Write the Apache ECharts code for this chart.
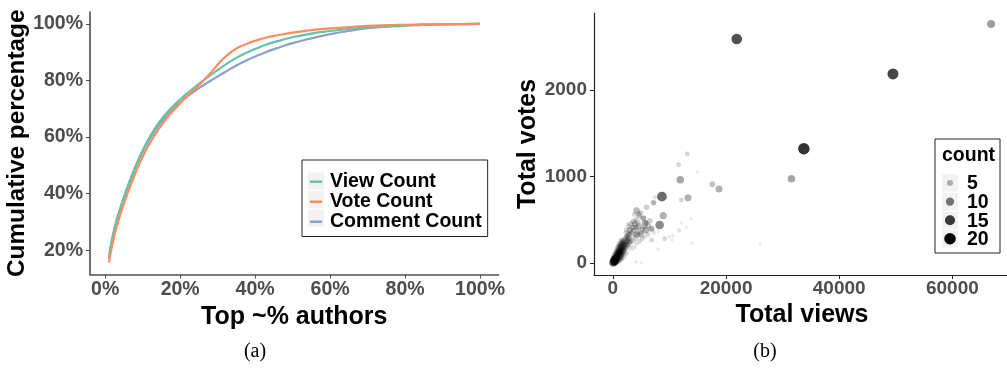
<!DOCTYPE html>
<html>
<head>
<meta charset="utf-8">
<script src="https://cdn.jsdelivr.net/npm/echarts@6/dist/echarts.min.js"></script>
<style>
  html, body { margin: 0; padding: 0; background: #fff; }
  #chart { width: 1007px; height: 374px; }
</style>
</head>
<body>
<div id="chart"></div>
<script>
// (a) cumulative share held by the top x% of authors
const topPct = [1, 2, 3, 4, 5, 6, 8, 10, 12, 14, 16, 18, 20, 22, 25, 28, 30, 32, 35, 38, 40, 43, 46, 50, 55, 60, 65, 70, 75, 80, 85, 90, 95, 100];
const viewCum = [18.2, 25, 30.5, 34.8, 38.9, 42.6, 49.4, 55.3, 60.3, 64.5, 67.9, 70.8, 73.3, 75.6, 78.8, 81.8, 83.7, 85.5, 88, 90, 91.1, 92.7, 93.9, 95.3, 96.6, 97.5, 98.2, 98.8, 99.2, 99.5, 99.72, 99.87, 99.96, 100];
const voteCum = [15.6, 22.5, 28, 32.4, 36.5, 40.2, 47, 53, 58, 62.3, 65.9, 69.1, 71.9, 74.6, 78.3, 82.5, 85.6, 88.3, 91.3, 93.1, 94, 95.2, 96, 96.9, 97.8, 98.4, 98.9, 99.3, 99.55, 99.7, 99.82, 99.9, 99.96, 100];
const commentCum = [17, 24.5, 29.8, 34.3, 38.4, 42, 48.8, 54.7, 59.6, 63.6, 66.9, 69.8, 72.3, 74.5, 77.3, 79.8, 81.4, 83, 85.3, 87.3, 88.5, 90.1, 91.5, 93.2, 94.9, 96.4, 97.5, 98.5, 99, 99.35, 99.65, 99.85, 99.95, 100];
const pctXTicks = [0, 20, 40, 60, 80, 100];
const pctYTicks = [20, 40, 60, 80, 100];

// (b) [total views, total votes, count]
const corePoints = [
  [40,2,9],[90,15,8],[130,5,8],[170,28,7],[210,10,7],[260,40,7],[300,18,6],[340,55,6],[390,8,6],[420,30,6],
  [470,62,6],[510,15,5],[560,48,6],[600,80,5],[640,25,5],[690,60,5],[730,100,5],[780,35,5],[820,75,5],[870,120,5],
  [910,45,5],[960,95,5],[1000,140,5],[1050,60,6],[1090,110,6],[1140,160,5],[1190,70,6],[1230,130,6],[1280,180,5],[1320,85,6],
  [1370,150,5],[1420,200,5],[1460,95,5],[1510,170,5],[1560,215,5],[1600,110,5],[1650,185,5],[1700,235,4],[1750,125,5],[1800,200,5],
  [1850,250,4],[1900,140,5],[1950,215,5],[2000,265,4],[2060,160,4],[2110,230,4],[2170,285,3],[2230,175,4],[2290,245,4],[2350,300,3],
  [2420,190,3],[2480,260,3],[2550,320,3],[2620,210,3],[2700,275,3],[2780,335,3],[2860,230,3],[2950,290,3],[3050,350,3],[3150,245,3],
  [200,60,5],[350,85,5],[500,110,5],[650,135,4],[800,160,4],[950,185,4],[1100,205,4],[1250,225,4],[1400,250,3],[1550,270,3],
  [300,3,4],[550,8,4],[800,12,3],[1050,20,3],[1300,30,3],[1550,45,3],[1800,60,3],[2050,80,2],[2300,100,2],[2550,120,2],
  [120,45,6],[250,22,8],[380,38,7],[520,52,7],[680,78,6],[840,92,6],[1000,115,6],[1180,135,6],[1360,118,5],[1530,140,5],
  [1650,150,5],[1900,180,4],[2150,200,4],[2400,230,3],[2700,260,3]
];
const spreadPoints = [
  [2500,310,3],[2700,290,4],[2900,330,3],[3100,260,3],[3300,350,4],[3500,300,3],[3700,380,4],[3900,330,3],[4100,410,4],[4300,360,3],
  [2600,210,3],[2900,240,3],[3200,200,2],[3600,250,3],[4000,280,3],[4400,310,3],[4800,350,4],[5200,390,4],[5600,420,3],[6000,460,3],
  [2400,380,3],[2800,420,3],[3200,450,4],[3600,480,4],[4000,500,3],[4600,540,4],[5000,580,3],[5400,520,4],[5800,470,3],[6300,430,4],
  [6800,390,3],[7200,350,2],[3000,170,2],[3400,150,1],[3800,180,2],[4200,220,2],[4700,250,3],[5200,280,3],[5700,300,2],[6200,330,3],
  [2300,350,3],[2600,450,2],[3800,560,3],[4400,470,4],[4190,605,6],[5960,644,4],[7130,697,4],[7430,760,2],[4650,566,4],[5360,517,4],
  [6550,489,4],[5660,459,6],[5790,382,7],[6850,397,5],[6850,266,3],[7960,158,1],[4070,12,1],[5010,0,1],[3500,410,5],[3000,380,5],
  [4600,420,6],[3900,450,5],[5000,330,5],[4200,330,5]
];
const outlierPoints = [
  [8670,767,14],[8260,439,11],[8900,547,7],[13270,755,7],[11910,963,8],[17580,910,5],[18760,855,7],[21890,2590,17],
  [49500,2185,18],[33750,1321,20],[31560,975,8],[66850,2763,9],[13150,1260,3],[11620,1137,3],[14920,1048,1],[12090,728,3],
  [7260,697,3],[12150,462,1],[13800,512,1],[12920,413,1],[11730,378,2],[10440,266,1],[9960,304,1],[9150,281,3],
  [13930,228,1],[26020,220,1],[10570,312,1],[8020,362,1]
];
const viewTicks = [0, 20000, 40000, 60000];
const voteTicks = [0, 1000, 2000];
const countLegend = [5, 10, 15, 20];

const FONT = 'Liberation Sans, Arial, sans-serif';
const TICK_GREY = '#4d4d4d';

// count -> point diameter / opacity (area scaled like ggplot)
function dotSize(c) { return Math.sqrt(12.25 + 120 * (c - 1) / 19); }
function dotAlpha(c) { return 0.1 + 0.9 * (c - 1) / 19; }

const chart = echarts.init(document.getElementById('chart'), null, { renderer: 'canvas' });

function axisBase(lineColor, lineWidth, titleSize) {
  return {
    axisLine: { show: true, onZero: false, lineStyle: { color: lineColor, width: lineWidth } },
    splitLine: { show: false },
    nameLocation: 'middle',
    nameTextStyle: { fontFamily: FONT, fontWeight: 'bold', fontSize: titleSize, color: '#000' }
  };
}
function labelStyle(margin, size, suffix, values) {
  return {
    margin: margin,
    fontFamily: FONT, fontWeight: 'bold', fontSize: size, color: TICK_GREY,
    formatter: function (v) { return String(v) + suffix; },
    customValues: values
  };
}

const pts = corePoints.concat(spreadPoints, outlierPoints);

// scatter legend + captions
const deco = [
  { type: 'rect', shape: { x: 935, y: 139, width: 65, height: 114 },
    style: { fill: '#fff', stroke: '#222', lineWidth: 1 }, z: 10 },
  { type: 'text', x: 942, y: 156, z: 11,
    style: { text: 'count', fontFamily: FONT, fontWeight: 'bold', fontSize: 19.5, fill: '#000', verticalAlign: 'middle' } }
];
countLegend.forEach(function (c, i) {
  const cy = 183 + i * 18.6;
  deco.push({ type: 'rect', shape: { x: 942, y: cy - 8.6, width: 16, height: 17.2 }, style: { fill: '#f2f2f2' }, z: 11 });
  deco.push({ type: 'circle', shape: { cx: 950, cy: cy, r: dotSize(c) / 2 }, style: { fill: 'rgba(0,0,0,' + dotAlpha(c) + ')' }, z: 12 });
  deco.push({ type: 'text', x: 967, y: cy + 1, z: 12,
    style: { text: String(c), fontFamily: FONT, fontWeight: 'bold', fontSize: 19.5, fill: '#000', verticalAlign: 'middle' } });
});
// key backgrounds for the line legend
[181, 199.5, 218].forEach(function (cy) {
  deco.push({ type: 'rect', shape: { x: 308, y: cy - 8.6, width: 16, height: 17.2 }, style: { fill: '#f2f2f2' }, z: 1 });
});
deco.push({ type: 'text', x: 255, y: 352, z: 5,
  style: { text: '(a)', fontFamily: 'Liberation Serif, serif', fontSize: 20, fill: '#000', align: 'center', verticalAlign: 'middle' } });
deco.push({ type: 'text', x: 765, y: 352, z: 5,
  style: { text: '(b)', fontFamily: 'Liberation Serif, serif', fontSize: 20, fill: '#000', align: 'center', verticalAlign: 'middle' } });

function lineSeries(name, vals, color) {
  return {
    name: name, type: 'line', xAxisIndex: 0, yAxisIndex: 0,
    data: topPct.map(function (x, i) { return [x, vals[i]]; }),
    showSymbol: false, smooth: 0.5,
    lineStyle: { width: 2.2, color: color }, itemStyle: { color: color }
  };
}

const option = {
  backgroundColor: '#fff',
  animation: false,
  grid: [
    { left: 90, right: 508.4, top: 12, bottom: 99.5, outerBoundsMode: 'none' },
    { left: 594, right: -3, top: 13, bottom: 99, outerBoundsMode: 'none' }
  ],
  legend: {
    data: ['View Count', 'Vote Count', 'Comment Count'],
    orient: 'vertical',
    left: 302, top: 160,
    padding: [11.75, 6, 4.75, 8],
    itemGap: 0,
    itemWidth: 12, itemHeight: 2.5,
    icon: 'rect',
    borderColor: '#222', borderWidth: 1,
    backgroundColor: 'rgba(0,0,0,0)',
    z: 5,
    textStyle: { fontFamily: FONT, fontWeight: 'bold', fontSize: 19.5, color: '#000', lineHeight: 18.5, padding: [0, 0, 0, 3] }
  },
  xAxis: [
    Object.assign(axisBase('#4d4d4d', 1.6, 25), {
      type: 'value', gridIndex: 0, min: -4.05, max: 104.95,
      name: 'Top ~% authors', nameGap: 23,
      axisLabel: labelStyle(5, 19.5, '%', pctXTicks),
      axisTick: { show: true, length: 4, customValues: pctXTicks, lineStyle: { color: '#4d4d4d' } }
    }),
    Object.assign(axisBase('#222', 1.2, 25), {
      type: 'value', gridIndex: 1, min: -3340, max: 70190,
      name: 'Total views', nameGap: 21,
      axisLabel: labelStyle(4, 19, '', viewTicks),
      axisTick: { show: true, length: 4, customValues: viewTicks, lineStyle: { color: '#222' } }
    })
  ],
  yAxis: [
    Object.assign(axisBase('#4d4d4d', 1.6, 24.3), {
      type: 'value', gridIndex: 0, min: 11.38, max: 104.22,
      name: 'Cumulative percentage', nameGap: 60,
      axisLabel: labelStyle(7, 19.5, '%', pctYTicks),
      axisTick: { show: true, length: 4, customValues: pctYTicks, lineStyle: { color: '#4d4d4d' } }
    }),
    Object.assign(axisBase('#222', 1.2, 25), {
      type: 'value', gridIndex: 1, min: -139, max: 2890,
      name: 'Total votes', nameGap: 53,
      axisLabel: labelStyle(7, 19, '', voteTicks),
      axisTick: { show: true, length: 4, customValues: voteTicks, lineStyle: { color: '#222' } }
    })
  ],
  graphic: deco,
  series: [
    lineSeries('Comment Count', commentCum, '#8da0cb'),
    lineSeries('View Count', viewCum, '#66c2a5'),
    lineSeries('Vote Count', voteCum, '#fc8d62'),
    {
      name: 'authors', type: 'scatter', xAxisIndex: 1, yAxisIndex: 1,
      data: pts,
      symbol: 'circle',
      symbolSize: function (v) { return dotSize(v[2]); },
      itemStyle: {
        color: function (p) { return 'rgba(0,0,0,' + dotAlpha(p.value[2]) + ')'; }
      }
    }
  ]
};

chart.setOption(option);
</script>
</body>
</html>
